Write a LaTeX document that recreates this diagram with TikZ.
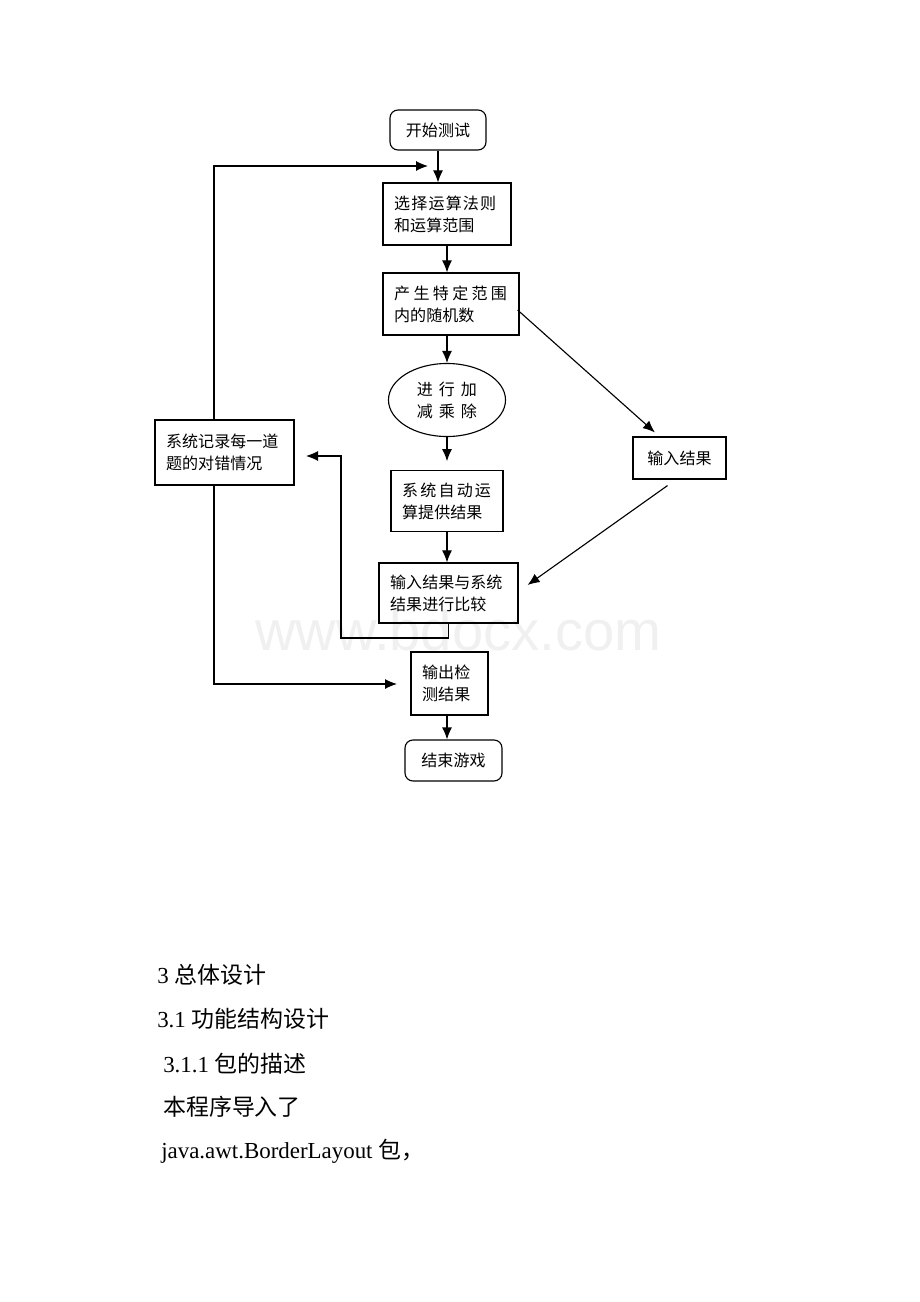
\documentclass[tikz,border=0pt]{standalone}
\usepackage{fontspec}
\setmainfont{Liberation Serif}
\newfontfamily\cjk{Noto Sans CJK SC}
\newfontfamily\wmfont{Liberation Sans}
\usepackage{tikz}
\usetikzlibrary{shapes, arrows.meta, positioning, calc}
\newcommand{\spread}[2]{\makebox[#1][s]{\spaceskip=0pt plus 1fil\relax #2}}

\begin{document}
\begin{tikzpicture}
  [
    x=0.025cm, y=-0.025cm,
    Box/.style={rectangle, draw=black, line width=0.8pt, inner xsep=0.28cm, inner ysep=0pt, align=left, font=\cjk\fontsize{11.4pt}{15.6pt}\selectfont},
    Term/.style={rectangle, rounded corners=2mm, draw=black, line width=0.8pt, inner sep=0pt, font=\cjk\fontsize{11.4pt}{15.6pt}\selectfont},
    Oval/.style={ellipse, draw=black, line width=0.8pt, inner sep=0pt, align=center, font=\cjk\fontsize{11.4pt}{15.6pt}\selectfont},
    Arr/.style={->, >={Latex[length=3mm, width=2.5mm]}, draw, line width=0.8pt},
    Body/.style={anchor=base west, inner sep=0pt, font=\fontsize{16.3pt}{20pt}\selectfont}
  ]
  \useasboundingbox (0,0) rectangle (920,1302);
  % Watermark
  \node[anchor=base west, inner sep=0pt, text=gray!12, font=\wmfont\fontsize{40pt}{40pt}\selectfont] (mark) at (255,650) {www.bdocx.com};
  % Nodes
  \node[Term, minimum width=2.4cm, minimum height=1cm] (start) at (438,130) {开始测试};
  \node[Box, text width=2.64cm, minimum height=1.55cm] (choose) at (447,214) {\spread{2.55cm}{选 择 运 算 法 则}\\和运算范围};
  \node[Box, text width=2.84cm, minimum height=1.55cm] (gen) at (451,304) {\spread{2.82cm}{产 生 特 定 范 围}\\内的随机数};
  \node[Oval, minimum width=2.925cm, minimum height=1.825cm] (arith) at (447,400) {\spread{1.5cm}{进 行 加}\\\spread{1.5cm}{减 乘 除}};
  \node[Box, text width=2.24cm, minimum height=1.525cm] (sysres) at (447,501) {\spread{2.22cm}{系 统 自 动 运}\\算提供结果};
  \node[Box, text width=2.915cm, minimum height=1.5cm] (cmp) at (448.5,593) {输入结果与系统\\结果进行比较};
  \node[Box, align=center, minimum width=2.325cm, minimum height=1.05cm] (input) at (679.5,458) {输入结果};
  \node[Box, text width=2.915cm, minimum height=1.625cm] (record) at (224.5,452.5) {系统记录每一道\\题的对错情况};
  \node[Box, text width=1.365cm, minimum height=1.575cm] (output) at (449.5,683.5) {输出检\\测结果};
  \node[Term, minimum width=2.425cm, minimum height=1.025cm] (stop) at (453.5,760.5) {结束游戏};
  \coordinate (loopTop) at (214,166);
  \coordinate (loopIn) at (428,166);
  \coordinate (outIn) at (397,684);
  \coordinate (fbCorner) at (341,638);
  \coordinate (fbIn) at (306,456);
  % Lines
  \path [Arr] (start.south) -- (start.south |- choose.north);
  \path [Arr] (choose.south) -- (choose.south |- gen.north);
  \path [Arr] (gen.south -| arith.north) -- (arith.north);
  \path [Arr, shorten >=0.22cm] (arith.south) -- (sysres.north);
  \path [Arr] (sysres.south) -- (sysres.south |- cmp.north);
  \path [Arr] (output.south -| sysres) -- (stop.north -| sysres);
  \path [Arr, shorten >=0.15cm] ($(gen.east)+(-2,6)$) -- (input.133);
  \path [Arr] ($(input.south)+(-12,6)$) -- ($(cmp.east)+(9,-8)$);
  \path [Arr] (record.north -| loopTop) -- (loopTop) -- (loopIn);
  \path [Arr] (record.south -| loopTop) |- (outIn);
  \path [Arr] (cmp.south) |- (fbCorner) |- (fbIn);
  % Text
  \node[Body] (h1) at (157,983) {3 {\cjk 总体设计}};
  \node[Body] (h2) at (157,1027) {3.1 {\cjk 功能结构设计}};
  \node[Body] (h3) at (163,1072) {3.1.1 {\cjk 包的描述}};
  \node[Body] (p1) at (163,1115) {\cjk 本程序导入了};
  \node[Body] (p2) at (161,1158) {java.awt.BorderLayout {\cjk 包，}};
\end{tikzpicture}
\end{document}
